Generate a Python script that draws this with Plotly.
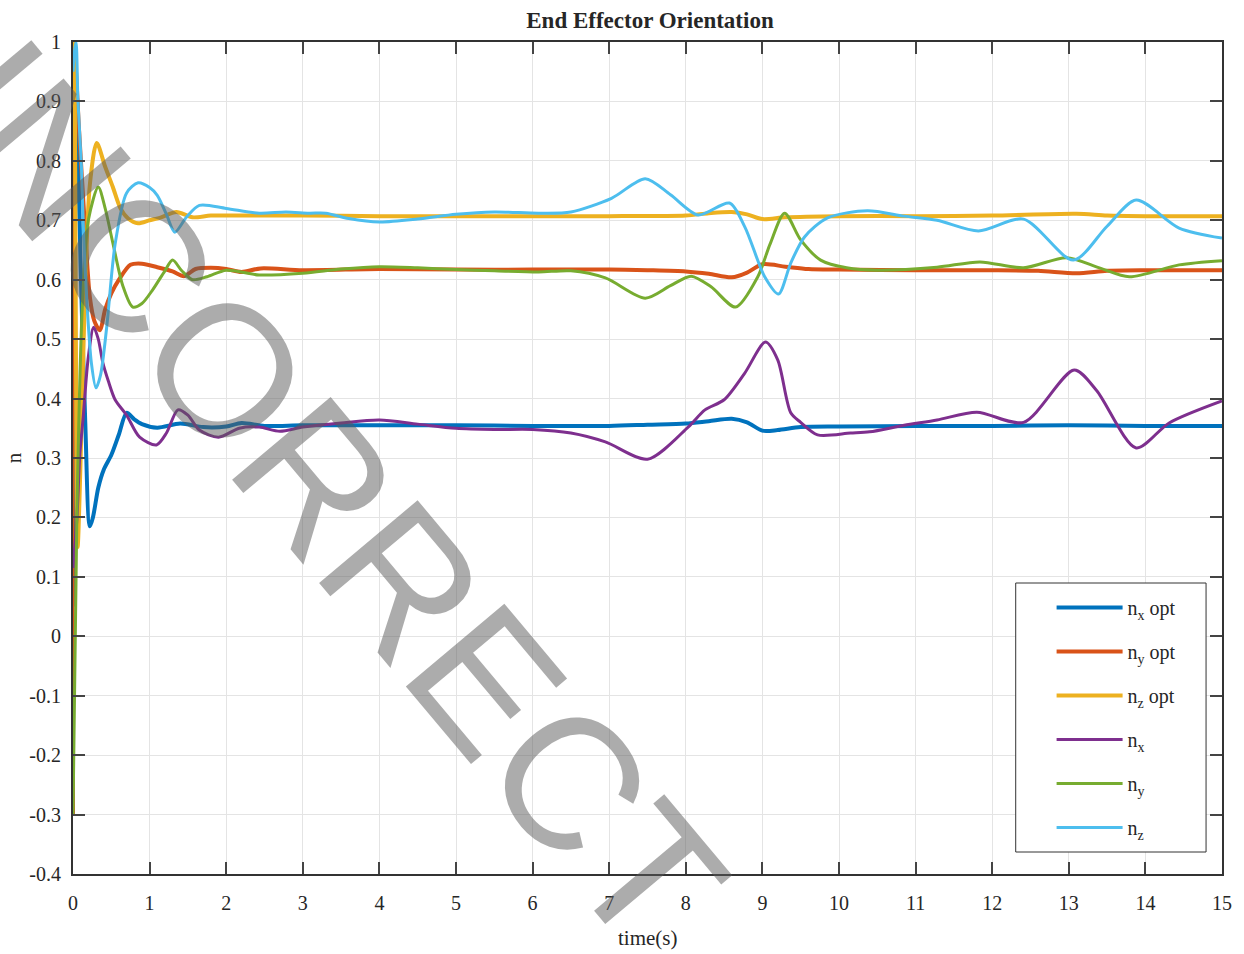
import plotly.graph_objects as go

# ---------------- data ----------------
t_nx_opt = [0, 0.05, 0.1, 0.16, 0.22, 0.26, 0.33, 0.4, 0.5, 0.6, 0.7, 0.8, 0.9, 1.1, 1.4, 1.7, 2.0, 2.2, 2.5,
            3, 4, 5, 6, 7, 7.5, 8, 8.3, 8.6, 8.8, 9.0, 9.2, 9.5, 10, 11, 12, 13, 14, 15]
nx_opt = [0.05, 0.91, 0.62, 0.36, 0.185, 0.2, 0.25, 0.28, 0.305, 0.34, 0.376, 0.365, 0.357, 0.351, 0.358, 0.352,
          0.353, 0.359, 0.354, 0.355, 0.355, 0.355, 0.354, 0.354, 0.356, 0.358, 0.362, 0.366, 0.36, 0.346, 0.347,
          0.352, 0.353, 0.354, 0.354, 0.355, 0.354, 0.354]

t_ny_opt = [0, 0.02, 0.08, 0.16, 0.22, 0.28, 0.35, 0.42, 0.5, 0.6, 0.75, 0.9, 1.1, 1.3, 1.45, 1.6, 1.8, 2.0, 2.2,
            2.45, 3, 4, 5, 6, 7, 7.5, 8, 8.3, 8.6, 8.8, 9.0, 9.3, 9.6, 10, 11, 12, 12.6, 13.1, 13.5, 14, 15]
ny_opt = [-0.3, 0.98, 0.85, 0.68, 0.571, 0.53, 0.515, 0.55, 0.577, 0.6, 0.625, 0.627, 0.621, 0.614, 0.606, 0.618,
          0.62, 0.618, 0.613, 0.619, 0.616, 0.618, 0.617, 0.617, 0.617, 0.616, 0.614, 0.61, 0.604, 0.612, 0.626,
          0.622, 0.618, 0.617, 0.616, 0.616, 0.615, 0.611, 0.615, 0.616, 0.616]

t_nz_opt = [0, 0.015, 0.06, 0.1, 0.15, 0.22, 0.31, 0.42, 0.52, 0.62, 0.72, 0.85, 1.0, 1.15, 1.35, 1.56, 1.8, 2.2,
            3, 4, 5, 6, 7, 8, 8.3, 8.6, 8.8, 9.0, 9.3, 10, 11, 12, 13.1, 13.5, 14, 15]
nz_opt = [0.95, 1.0, 0.15, 0.3, 0.55, 0.76, 0.83, 0.79, 0.756, 0.72, 0.703, 0.695, 0.7, 0.705, 0.714, 0.705, 0.708,
          0.708, 0.708, 0.707, 0.707, 0.707, 0.707, 0.708, 0.712, 0.714, 0.71, 0.702, 0.705, 0.707, 0.707, 0.708,
          0.711, 0.708, 0.707, 0.707]

t_nx = [0, 0.05, 0.09, 0.13, 0.2, 0.27, 0.33, 0.39, 0.46, 0.55, 0.7, 0.87, 1.09, 1.22, 1.37, 1.5, 1.65, 1.9, 2.17,
        2.43, 2.7, 3.0, 3.5, 4.0, 4.5, 5, 5.5, 6, 6.5, 6.95, 7.5, 8.03, 8.25, 8.5, 8.77, 9.04, 9.2, 9.37, 9.5, 9.72,
        10.15, 10.4, 10.85, 11.28, 11.8, 12.41, 13.07, 13.36, 13.88, 14.31, 15]
nx = [0.115, 0.196, 0.308, 0.364, 0.47, 0.52, 0.5, 0.46, 0.43, 0.398, 0.372, 0.335, 0.322, 0.342, 0.381, 0.372,
      0.347, 0.335, 0.35, 0.352, 0.345, 0.352, 0.359, 0.364, 0.357, 0.35, 0.348, 0.348, 0.342, 0.327, 0.298, 0.352,
      0.381, 0.398, 0.443, 0.495, 0.465, 0.376, 0.36, 0.339, 0.342, 0.344, 0.355, 0.364, 0.377, 0.36, 0.448, 0.414,
      0.317, 0.359, 0.396]

t_ny = [0, 0.05, 0.12, 0.2, 0.33, 0.42, 0.52, 0.65, 0.78, 0.9, 1.04, 1.2, 1.3, 1.42, 1.56, 1.75, 2.0, 2.43, 3.0,
        3.5, 4.0, 4.5, 5, 5.5, 6.08, 6.5, 6.95, 7.47, 7.8, 8.07, 8.33, 8.65, 8.94, 9.1, 9.29, 9.5, 9.76, 10.1, 10.5,
        11.28, 11.84, 12.41, 12.97, 13.4, 13.79, 14.44, 15]
ny = [-0.3, 0.2, 0.55, 0.7, 0.756, 0.72, 0.662, 0.59, 0.554, 0.56, 0.583, 0.615, 0.633, 0.615, 0.6, 0.605, 0.616,
      0.608, 0.611, 0.618, 0.622, 0.62, 0.617, 0.615, 0.613, 0.615, 0.603, 0.569, 0.59, 0.606, 0.588, 0.554, 0.605,
      0.66, 0.712, 0.667, 0.633, 0.62, 0.616, 0.621, 0.63, 0.62, 0.637, 0.62, 0.605, 0.625, 0.632]

t_nz = [0, 0.02, 0.04, 0.065, 0.11, 0.14, 0.18, 0.24, 0.3, 0.36, 0.44, 0.55, 0.7, 0.85, 1.0, 1.1, 1.22, 1.33, 1.48,
        1.65, 2.0, 2.43, 2.78, 3.08, 3.3, 3.6, 4.0, 4.5, 5.0, 5.5, 6.08, 6.5, 7.03, 7.47, 7.8, 8.16, 8.57, 8.77, 9.03,
        9.21, 9.37, 9.55, 9.85, 10.37, 10.85, 11.28, 11.82, 12.41, 13.06, 13.5, 13.88, 14.44, 15]
nz = [0.95, 0.985, 1.0, 0.9, 0.79, 0.67, 0.566, 0.46, 0.418, 0.44, 0.52, 0.66, 0.746, 0.763, 0.755, 0.742, 0.71,
      0.68, 0.705, 0.725, 0.72, 0.712, 0.714, 0.712, 0.712, 0.703, 0.697, 0.702, 0.71, 0.714, 0.712, 0.714, 0.737,
      0.77, 0.743, 0.709, 0.729, 0.689, 0.605, 0.576, 0.628, 0.672, 0.704, 0.716, 0.707, 0.70, 0.682, 0.702, 0.633,
      0.69, 0.734, 0.687, 0.67]

x_ticks = list(range(0, 16))
x_tick_labels = [str(v) for v in x_ticks]
y_ticks = [-0.4, -0.3, -0.2, -0.1, 0, 0.1, 0.2, 0.3, 0.4, 0.5, 0.6, 0.7, 0.8, 0.9, 1]
y_tick_labels = ["-0.4", "-0.3", "-0.2", "-0.1", "0", "0.1", "0.2", "0.3", "0.4", "0.5", "0.6", "0.7", "0.8",
                 "0.9", "1"]

series = [
    ("n<sub>x</sub> opt", t_nx_opt, nx_opt, "#0072BD", 4),
    ("n<sub>y</sub> opt", t_ny_opt, ny_opt, "#D95319", 4),
    ("n<sub>z</sub> opt", t_nz_opt, nz_opt, "#EDB120", 4),
    ("n<sub>x</sub>", t_nx, nx, "#7E2F8E", 3),
    ("n<sub>y</sub>", t_ny, ny, "#77AC30", 3),
    ("n<sub>z</sub>", t_nz, nz, "#4DBEEE", 3),
]

# ---------------- figure ----------------
W, H = 1244, 954
L, R, T, B = 73, 18, 42, 80
PW, PH = W - L - R, H - T - B

def px(xp):
    return (xp - L) / PW

def py(yp):
    return (H - B - yp) / PH

fig = go.Figure()
for i, (name, tt, vv, col, lw) in enumerate(series):
    fig.add_trace(go.Scatter(x=tt, y=vv, mode="lines", name=name, legendgroup=str(i),
                             line=dict(color=col, width=lw, shape="spline", smoothing=0.8)))

serif = "Liberation Serif, Times New Roman, serif"
axis_common = dict(showline=True, linecolor="#333333", linewidth=2, mirror="ticks", ticks="inside",
                   ticklen=12, tickwidth=2, tickcolor="#444444", showgrid=True, gridcolor="#e4e4e4",
                   gridwidth=1, zeroline=False, tickfont=dict(family=serif, size=20, color="#262626"))

fig.update_xaxes(range=[0, 15], tickvals=x_ticks, ticktext=x_tick_labels, ticklabelstandoff=10, **axis_common)
fig.update_yaxes(range=[-0.4, 1], tickvals=y_ticks, ticktext=y_tick_labels, ticklabelstandoff=6, **axis_common)

fig.update_layout(
    width=W, height=H, margin=dict(l=L, r=R, t=T, b=B),
    paper_bgcolor="white", plot_bgcolor="white",
    title=dict(text="<b>End Effector Orientation</b>", x=650 / W, xanchor="center", xref="container",
               y=1 - 20 / H, yanchor="middle", yref="container",
               font=dict(family=serif, size=23, color="#262626")),
    legend=dict(x=px(1055), y=py(588), xanchor="left", yanchor="top", bgcolor="rgba(0,0,0,0)",
                borderwidth=0, font=dict(family=serif, size=20, color="#262626"),
                tracegroupgap=15, itemwidth=66),
    showlegend=True,
)

# legend box (drawn as a shape behind the legend entries)
fig.add_shape(type="rect", xref="paper", yref="paper", x0=px(1019), x1=px(1210), y0=py(852), y1=py(583),
              line=dict(color="#333333", width=1), fillcolor="white", layer="above")

fig.add_annotation(text="time(s)", x=px(650), y=py(938), xref="paper", yref="paper", showarrow=False,
                   xanchor="center", yanchor="middle", font=dict(family=serif, size=21, color="#262626"))
fig.add_annotation(text="n", x=px(14), y=py(458), xref="paper", yref="paper", showarrow=False, textangle=-90,
                   xanchor="center", yanchor="middle", font=dict(family=serif, size=21, color="#262626"))

# watermark
fig.add_annotation(text="INCORRECT", x=px(330), y=py(494), xref="paper", yref="paper", showarrow=False,
                   textangle=50, xanchor="center", yanchor="middle",
                   font=dict(family="Liberation Sans, Arial, sans-serif", size=187, color="rgba(90,90,90,0.5)"))

fig.write_html("out.html")
